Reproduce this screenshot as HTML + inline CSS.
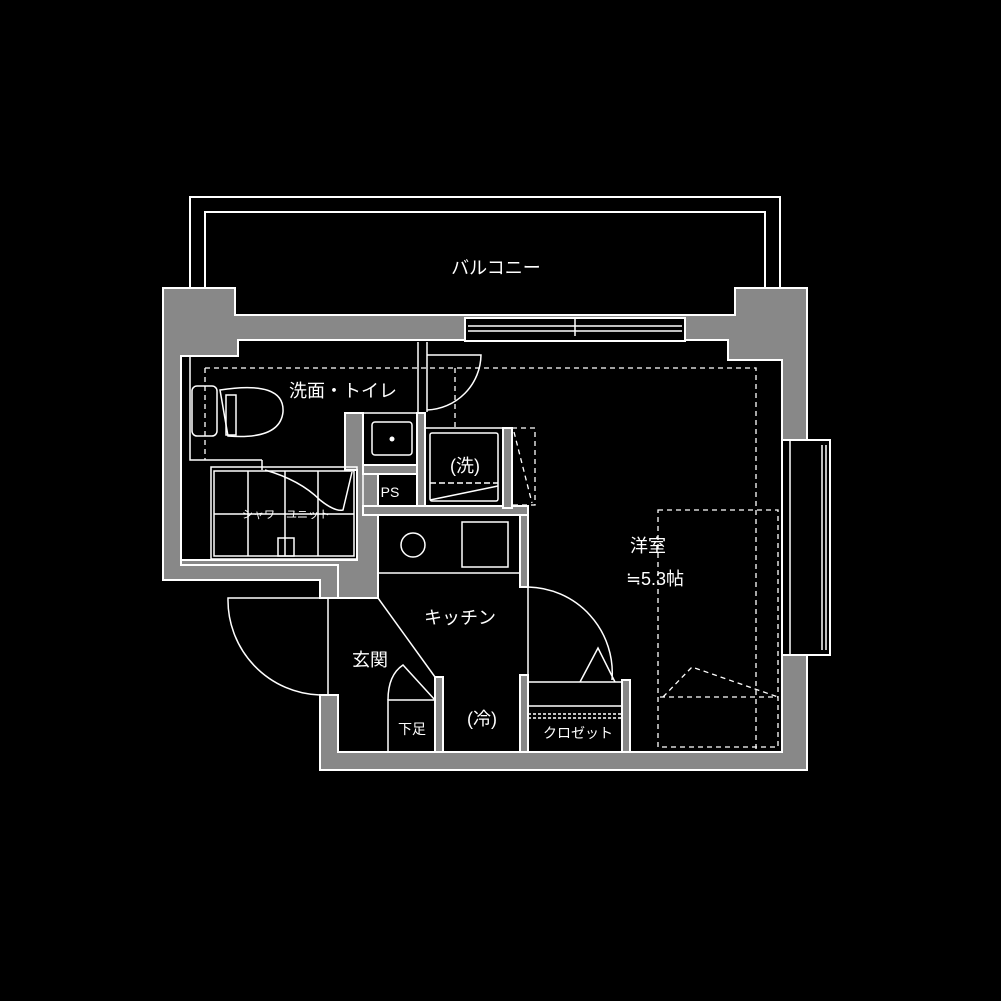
<!DOCTYPE html>
<html><head><meta charset="utf-8"><style>
html,body{margin:0;padding:0;background:#000;}
svg{display:block;}
text{font-family:"Liberation Sans","Noto Sans CJK JP",sans-serif;fill:#fff;}
</style></head><body>
<svg width="1001" height="1001" viewBox="0 0 1001 1001" xmlns="http://www.w3.org/2000/svg">
<rect width="1001" height="1001" fill="#000"/>
<g fill="none" stroke="#fff" stroke-width="2">
<path d="M190 288 V197 H780 V288"/>
<path d="M205 288 V212 H765 V288"/>
</g>
<g fill="#888" stroke="#fff" stroke-width="2">
<path d="M163 288 H235 V315 H735 V288 H807 V440 H782 V360 H728 V340 H238 V356 H181 V565 H338 V598 H320 V580 H163 Z"/>
<path d="M320 695 H338 V752 H782 V655 H807 V770 H320 Z"/>
<path d="M181 560 H357 V470 H345 V413 H363 V473 H378 V598 H338 V565 H181 Z"/>
<rect x="417" y="413" width="8" height="95"/>
<rect x="363" y="465" width="54" height="9"/>
<rect x="363" y="506" width="165" height="9"/>
<rect x="503" y="428" width="9" height="80"/>
<rect x="520" y="515" width="8" height="72"/>
<rect x="520" y="675" width="8" height="77"/>
<rect x="622" y="680" width="8" height="72"/>
<rect x="435" y="677" width="8" height="75"/>
</g>
<g fill="#000" stroke="#fff" stroke-width="2">
<rect x="465" y="318" width="220" height="23"/>
<rect x="782" y="440" width="48" height="215"/>
</g>
<g fill="none" stroke="#fff" stroke-width="1.5">
<line x1="468" y1="326" x2="682" y2="326"/><line x1="468" y1="331" x2="682" y2="331"/>
<line x1="575" y1="318" x2="575" y2="336"/>
<line x1="790" y1="440" x2="790" y2="655"/>
<line x1="822" y1="445" x2="822" y2="650"/><line x1="826" y1="445" x2="826" y2="650"/>
<rect x="192" y="386" width="25" height="50" rx="5"/>
<path d="M220 390 Q285 380 283 412 Q280 440 228 436 Z"/>
<rect x="226" y="395" width="10" height="40"/>
<path d="M190 356 V460 H262"/>
<line x1="262" y1="460" x2="262" y2="470"/>
<rect x="211" y="467" width="146" height="92"/>
<rect x="214" y="471" width="140" height="85"/>
<line x1="248" y1="471" x2="248" y2="556"/>
<line x1="285" y1="471" x2="285" y2="556"/>
<line x1="318" y1="471" x2="318" y2="556"/>
<line x1="214" y1="514" x2="354" y2="514"/>
<rect x="278" y="538" width="16" height="18"/>
<path d="M265 470 Q300 480 320 500 Q335 512 343 510 L352 472"/>
<rect x="363" y="413" width="54" height="52"/>
<rect x="372" y="422" width="40" height="33" rx="3"/>
<rect x="363" y="474" width="54" height="32"/>
<rect x="425" y="428" width="78" height="78"/>
<rect x="430" y="433" width="68" height="68" rx="2"/>
<line x1="430" y1="500" x2="498" y2="486"/>
<line x1="430" y1="483" x2="498" y2="483" stroke-dasharray="6 3"/>
<path d="M418 342 V412 M427 342 V412"/>
<path d="M427 355 H481 A56 56 0 0 1 427 410"/>
<rect x="378" y="515" width="142" height="58"/>
<circle cx="413" cy="545" r="12"/>
<rect x="462" y="522" width="46" height="45"/>
<line x1="378" y1="598" x2="435" y2="677"/>
<path d="M320 598 H228 A95 95 0 0 0 320 695"/>
<line x1="328" y1="598" x2="328" y2="695"/>
<rect x="388" y="700" width="47" height="52"/>
<path d="M388 700 Q388 675 403 665 L435 700"/>
<path d="M528 587 A86 86 0 0 1 612 680"/>
<line x1="528" y1="587" x2="528" y2="675"/>
<path d="M580 682 L598 648 L615 682"/>
<rect x="528" y="682" width="94" height="70"/>
<line x1="528" y1="706" x2="622" y2="706"/>
<line x1="528" y1="714" x2="622" y2="714" stroke-dasharray="3 2"/>
<line x1="528" y1="718" x2="622" y2="718" stroke-dasharray="3 2"/>
</g>
<g fill="none" stroke="#fff" stroke-width="1.3" stroke-dasharray="5 4">
<path d="M205 368 H756 V752"/>
<line x1="205" y1="368" x2="205" y2="460"/>
<line x1="455" y1="368" x2="455" y2="428"/>
<rect x="512" y="428" width="23" height="77"/>
<line x1="514" y1="432" x2="532" y2="503"/>
<rect x="658" y="510" width="120" height="237"/>
<path d="M663 697 L692 667 L778 697 M660 697 H778"/>
</g>
<circle cx="392" cy="439" r="2.5" fill="#fff"/>
<g font-size="18">
<text x="496" y="274" text-anchor="middle">バルコニー</text>
<text x="343" y="397" text-anchor="middle">洗面・トイレ</text>
<text x="465" y="472" text-anchor="middle">(洗)</text>
<text x="648" y="552" text-anchor="middle">洋室</text>
<text x="655" y="585" text-anchor="middle">≒5.3帖</text>
<text x="460" y="624" text-anchor="middle">キッチン</text>
<text x="370" y="666" text-anchor="middle">玄関</text>
<text x="482" y="725" text-anchor="middle">(冷)</text>
</g>
<text x="390" y="497" text-anchor="middle" font-size="14">PS</text>
<text x="412" y="734" text-anchor="middle" font-size="14">下足</text>
<text x="578" y="738" text-anchor="middle" font-size="14">クロゼット</text>
<text x="286" y="518" text-anchor="middle" font-size="11">シャワーユニット</text>
</svg>
</body></html>
